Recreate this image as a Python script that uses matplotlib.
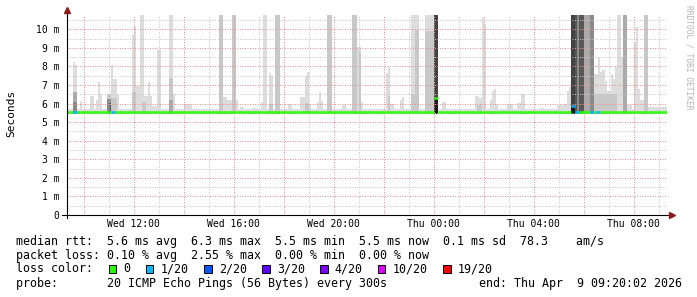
import numpy as np
import matplotlib
matplotlib.use("Agg")
import matplotlib.pyplot as plt
from matplotlib.patches import Rectangle

plt.rcParams['font.family'] = ['DejaVu Sans Mono', 'DejaVu Sans']

# ---------------- data ----------------
N_STEPS = 288            # 5-minute steps, Wed 09:20 -> Thu 09:20
START_HOUR, START_MIN = 9, 20
STEP_MIN = 5

# smoke segments (step index start/end, top value in ms, ping density level)
seg_start = [0,
    3, 4, 3, 3, 6, 11, 14, 15, 16,
    19, 19, 20, 21, 22, 21, 24,
    31, 32, 33, 35, 37, 39, 40, 31, 36, 41, 43,
    49, 49, 49, 51, 56,
    73, 75, 77, 79, 81, 83, 89, 93, 94,
    97, 98, 97, 100, 106,
    112, 114, 115, 116, 114,
    120, 121, 122, 125, 132,
    137, 139, 140, 141,
    153, 154, 154, 155, 160, 161,
    165, 167, 165, 172, 172, 176, 176,
    180, 196, 198, 197, 199, 200,
    203, 204, 205, 206, 211, 216, 218, 227,
    235, 238, 240, 241, 242, 242,
    244, 245, 246, 248, 249, 251,
    253, 255, 256, 257, 258, 259, 261, 262, 263, 253,
    264, 266, 267, 269, 272, 273, 274, 275, 277, 279]
seg_end = [288,
    4, 5, 5, 5, 7, 13, 15, 16, 17,
    21, 21, 21, 22, 24, 24, 25,
    32, 33, 35, 37, 39, 40, 41, 33, 38, 43, 45,
    51, 51, 51, 52, 60,
    75, 77, 79, 81, 82, 85, 91, 94, 96,
    98, 99, 99, 102, 108,
    114, 115, 116, 117, 116,
    121, 122, 123, 127, 134,
    139, 141, 141, 142,
    154, 155, 155, 157, 161, 162,
    169, 169, 167, 176, 176, 178, 178,
    182, 198, 199, 199, 200, 201,
    204, 205, 206, 207, 214, 218, 220, 229,
    238, 240, 241, 242, 244, 244,
    245, 246, 248, 249, 251, 253,
    255, 256, 257, 258, 259, 261, 262, 263, 264, 264,
    266, 267, 269, 271, 273, 274, 275, 277, 279, 288]
seg_top = [5.72,
    8.24, 8.1, 6.63, 6.1, 6.15, 6.4, 6.2, 7.17, 6.5,
    6.5, 6.25, 6.05, 8.06, 7.35, 6.3, 6.5,
    9.68, 10.2, 6.93, 10.75, 6.4, 7.17, 6.4, 6.6, 6.1, 5.85, 8.9,
    10.75, 7.4, 6.2, 6.5, 6.0,
    10.75, 6.33, 6.2, 10.75, 6.2, 5.8, 5.75, 6.1, 10.75,
    7.65, 7.5, 6.0, 10.75, 6.0,
    6.33, 7.5, 7.7, 6.0, 6.05,
    6.1, 6.63, 6.15, 10.75, 5.9,
    10.75, 9.05, 8.7, 6.1,
    7.65, 7.97, 6.4, 6.0, 6.2, 6.33,
    10.75, 9.95, 6.5, 10.75, 9.9, 10.75, 6.25,
    6.1, 6.4, 6.3, 5.95, 10.6, 10.3,
    6.2, 6.7, 6.8, 6.0, 6.0, 6.05, 6.5, 5.75,
    5.9, 6.0, 6.7, 6.9, 10.75, 5.85,
    10.75, 10.75, 10.75, 10.75, 10.75, 10.75,
    7.6, 8.5, 7.7, 7.8, 7.2, 6.7, 7.6, 7.3, 8.0, 6.5,
    10.75, 8.5, 10.75, 5.9, 9.3, 10.1, 6.8, 6.2, 10.75, 5.8]
seg_level = [1,
    1, 1, 3, 4, 1, 1, 1, 1, 1,
    2, 4, 5, 1, 1, 2, 1,
    1, 1, 1, 1, 1, 1, 1, 2, 2, 1, 1,
    1, 2, 3, 1, 1,
    2, 1, 1, 2, 1, 1, 1, 1, 1,
    1, 1, 2, 2, 1,
    1, 1, 1, 1, 2,
    1, 1, 1, 2, 1,
    2, 1, 2, 1,
    1, 1, 2, 1, 1, 1,
    1, 2, 2, 1, 2, 6, 7,
    1, 1, 1, 2, 1, 1,
    1, 1, 1, 1, 1, 1, 1, 1,
    1, 1, 1, 1, 6, 7,
    5, 4, 5, 3, 3, 4,
    1, 1, 1, 1, 1, 1, 1, 1, 1, 2,
    1, 1, 3, 1, 1, 1, 1, 1, 2, 1]
SMOKE_FLOOR = 5.45

# median rtt (ms), given at change points
median_change_step = [0, 176, 178, 242, 244]
median_change_ms = [5.55, 6.28, 5.55, 5.85, 5.55]

# steps with packet loss (pings lost out of 20)
loss_steps = [3, 4, 21, 22, 242, 243, 244, 245, 251, 252, 254, 255]
loss_pings = [1, 1, 1, 1, 1, 1, 1, 1, 1, 1, 1, 1]

legend_labels = ['0', '1/20', '2/20', '3/20', '4/20', '10/20', '19/20']
legend_pings = [0, 1, 2, 3, 4, 10, 19]
legend_colors = ['#26ff00', '#00b8ff', '#0059ff', '#5e00ff', '#7e00ff', '#dd00ff', '#ff0000']

x_tick_labels = ['Wed 12:00', 'Wed 16:00', 'Wed 20:00', 'Thu 00:00', 'Thu 04:00', 'Thu 08:00']
x_tick_hours = [12, 16, 20, 24, 28, 32]
y_ticks = [0, 1, 2, 3, 4, 5, 6, 7, 8, 9, 10]
Y_MAX = 10.77

stats_rtt = "median rtt:  5.6 ms avg  6.3 ms max  5.5 ms min  5.5 ms now  0.1 ms sd  78.3    am/s"
stats_loss = "packet loss: 0.10 % avg  2.55 % max  0.00 % min  0.00 % now"
probe_txt = "probe:       20 ICMP Echo Pings (56 Bytes) every 300s"
end_txt = "end: Thu Apr  9 09:20:02 2026"

# ---------------- figure ----------------
W, H = 697, 297
fig = plt.figure(figsize=(W / 100, H / 100), dpi=100)
fig.patch.set_facecolor('white')
L, B, R, T = 67, 215, 667, 15
ax = fig.add_axes([L / W, 1 - B / H, (R - L) / W, (B - T) / H])
ax.set_xlim(0, N_STEPS)
ax.set_ylim(0, Y_MAX)
ax.set_facecolor('white')
for s in ax.spines.values():
    s.set_visible(False)

def step_of_hour(h):
    return (h * 60 - (START_HOUR * 60 + START_MIN)) / STEP_MIN

# smoke
level_gray = {1: '#dddddd', 2: '#c8c8c8', 3: '#aaaaaa', 4: '#8a8a8a',
              5: '#575757', 6: '#424242', 7: '#1a1a1a'}
order = sorted(range(len(seg_start)), key=lambda i: seg_level[i])
for i in order:
    ax.bar(seg_start[i], seg_top[i] - SMOKE_FLOOR, width=seg_end[i] - seg_start[i],
           bottom=SMOKE_FLOOR, align='edge', color=level_gray[seg_level[i]],
           linewidth=0, zorder=2)

# grid (drawn over the smoke like rrdtool), dotted
minor_c = '#c6c6c6'
major_c = '#e99393'
dash = (0, (1, 1.5))
gkw = dict(lw=0.72, ls=dash, zorder=3)
for v in np.arange(0.5, Y_MAX, 1.0):
    ax.axhline(v, color=minor_c, **gkw)
for v in y_ticks[1:]:
    ax.axhline(v, color=major_c, **gkw)
for h in range(10, 34):
    st = step_of_hour(h)
    if 0 < st < N_STEPS:
        ax.axvline(st, color=major_c if h % 2 == 0 else minor_c, **gkw)

# median line, coloured by loss
med_idx = np.searchsorted(median_change_step, np.arange(N_STEPS), side='right') - 1
median_ms = np.array(median_change_ms)[med_idx]
loss = np.zeros(N_STEPS, dtype=int)
loss[loss_steps] = loss_pings
def loss_color(n):
    k = max(j for j, p in enumerate(legend_pings) if p <= n)
    return legend_colors[k]
cols = [loss_color(n) for n in loss]
steps = np.arange(N_STEPS)
lc = ax.hlines(median_ms, steps, steps + 1, colors=cols, linewidth=1.9, zorder=4)
lc.set_capstyle('butt')

# axes lines and arrows
arrow_c = '#8b1a1a'
ax.plot([0, 0], [-0.015, 1.018], color='black', lw=0.8, transform=ax.transAxes, clip_on=False, zorder=5)
ax.plot([-0.009, 1.004], [0, 0], color='black', lw=0.8, transform=ax.transAxes, clip_on=False, zorder=5)
ax.plot([0], [1.024], marker='^', ms=4, color=arrow_c, transform=ax.transAxes, clip_on=False, zorder=6)
ax.plot([1.008], [0], marker='>', ms=4, color=arrow_c, transform=ax.transAxes, clip_on=False, zorder=6)

# ticks
ax.set_xticks([step_of_hour(h) for h in x_tick_hours])
ax.set_xticklabels(x_tick_labels)
ax.set_yticks(y_ticks)
ax.set_yticklabels(['0' if v == 0 else f'{v} m' for v in y_ticks])
ax.tick_params(axis='x', length=0, pad=3, labelsize=7)
ax.tick_params(axis='y', length=0, pad=5.5, labelsize=7)

# y label and watermark
fig.text(10.8 / W, 1 - 113 / H, 'Seconds', rotation=90, ha='center', va='center', fontsize=8)
fig.text(688.5 / W, 1 - 5 / H, 'RRDTOOL / TOBI OETIKER', rotation=270, ha='center', va='top',
         fontsize=5.7, color='#b4b4b4')

# legend / stats
FS = 8.4
X0 = 16.4
rows_y = [241, 255, 269, 283]
fig.text(X0 / W, 1 - rows_y[0] / H, stats_rtt, ha='left', va='center', fontsize=FS)
fig.text(X0 / W, 1 - rows_y[1] / H, stats_loss, ha='left', va='center', fontsize=FS)
fig.text(X0 / W, 1 - rows_y[2] / H, 'loss color:', ha='left', va='center', fontsize=FS)
box_x = [108.9, 145.8, 204.4, 262.2, 320.0, 377.8, 443.1]
for bx, lab, c in zip(box_x, legend_labels, legend_colors):
    fig.patches.append(Rectangle((bx / W, 1 - (rows_y[2] + 4) / H), 7.5 / W, 8 / H,
                                 transform=fig.transFigure, facecolor=c,
                                 edgecolor='black', linewidth=0.7))
    fig.text((bx + 14.7) / W, 1 - rows_y[2] / H, lab, ha='left', va='center', fontsize=FS)
fig.text(X0 / W, 1 - rows_y[3] / H, probe_txt, ha='left', va='center', fontsize=FS)
fig.text(682 / W, 1 - rows_y[3] / H, end_txt, ha='right', va='center', fontsize=FS)

fig.savefig('out.png', dpi=100, facecolor='white')
